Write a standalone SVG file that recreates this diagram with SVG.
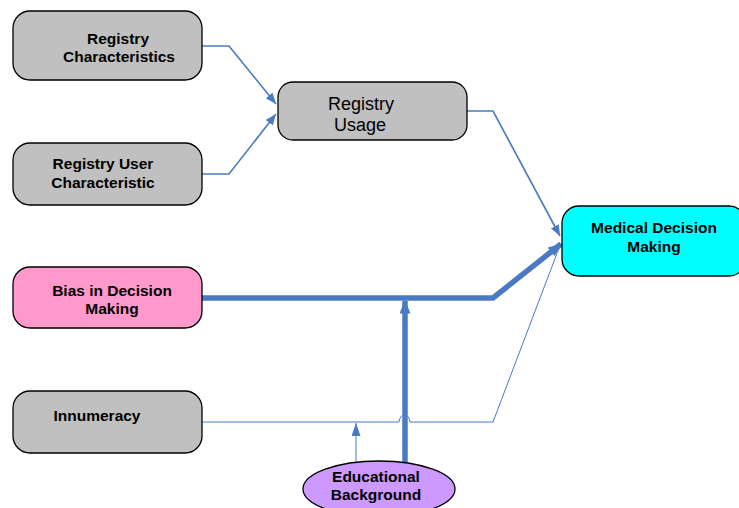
<svg xmlns="http://www.w3.org/2000/svg" width="739" height="508" viewBox="0 0 739 508">
<defs>
<style>
.box{stroke:#000;stroke-width:1.3}
.grey{fill:#c0c0c0}
.t{font-family:"Liberation Sans",Arial,sans-serif;font-size:15.5px;font-weight:bold;fill:#000;text-anchor:middle}
.tn{font-family:"Liberation Sans",Arial,sans-serif;font-size:18px;fill:#000;text-anchor:middle}
.c{fill:none;stroke:#4a7ac4;stroke-width:1.6}
.thin{fill:none;stroke:#4a7ac4;stroke-width:1}
.thick{fill:none;stroke:#4a7ac4;stroke-width:5.5}
</style>
<marker id="ah" viewBox="0 0 10 10" refX="10" refY="5" markerWidth="11" markerHeight="9" markerUnits="userSpaceOnUse" orient="auto" preserveAspectRatio="none"><path d="M0,0 L10,5 L0,10 z" fill="#4a7ac4"/></marker>
<marker id="ahs" viewBox="0 0 10 10" refX="10" refY="5" markerWidth="13" markerHeight="9" markerUnits="userSpaceOnUse" orient="auto" preserveAspectRatio="none"><path d="M0,0 L10,5 L0,10 z" fill="#4a7ac4"/></marker>
<marker id="ahl" viewBox="0 0 10 10" refX="9" refY="5" markerWidth="14" markerHeight="11" markerUnits="userSpaceOnUse" orient="auto" preserveAspectRatio="none"><path d="M0,0 L10,5 L0,10 z" fill="#4a7ac4"/></marker>
</defs>
<g id="connectors">
<polyline class="c" points="202,46 229,46 276,104" marker-end="url(#ah)"/>
<polyline class="c" points="202,174 229,174 276,114" marker-end="url(#ah)"/>
<polyline class="c" points="467,111 493,111 560,236" marker-end="url(#ah)"/>
<polyline class="thick" points="202,298 493,298 561,244" marker-end="url(#ahl)"/>
<path class="thin" d="M202,422 L399,422 Q400,415 404.5,415 Q409,415 410,422 L493,422 L559,248"/>
<line class="thick" x1="405" y1="462" x2="405" y2="301" marker-end="url(#ahl)"/>
<line class="thin" x1="356" y1="462" x2="356" y2="423" marker-end="url(#ahs)"/>
</g>
<g id="registry-characteristics">
<rect class="box grey" x="13" y="11" width="189" height="69" rx="17"/>
<text class="t" x="118" y="44">Registry</text>
<text class="t" x="119" y="62">Characteristics</text>
</g>
<g id="registry-user-characteristic">
<rect class="box grey" x="13" y="143" width="189" height="62" rx="17"/>
<text class="t" x="103" y="169">Registry User</text>
<text class="t" x="103" y="188">Characteristic</text>
</g>
<g id="registry-usage">
<rect class="box grey" x="278" y="82" width="189" height="58" rx="15"/>
<text class="tn" x="361" y="110">Registry</text>
<text class="tn" x="360" y="131">Usage</text>
</g>
<g id="medical-decision-making">
<rect class="box" fill="#00ffff" x="562" y="206" width="184" height="70" rx="17"/>
<text class="t" x="654" y="233">Medical Decision</text>
<text class="t" x="654" y="252">Making</text>
</g>
<g id="bias-in-decision-making">
<rect class="box" fill="#ff99cc" x="13" y="267" width="189" height="61" rx="17"/>
<text class="t" x="112" y="296">Bias in Decision</text>
<text class="t" x="112" y="314">Making</text>
</g>
<g id="innumeracy">
<rect class="box grey" x="13" y="391" width="189" height="62" rx="17"/>
<text class="t" x="97" y="421">Innumeracy</text>
</g>
<g id="educational-background">
<ellipse class="box" fill="#cc99ff" cx="379" cy="489" rx="76" ry="28"/>
<text class="t" x="376" y="482">Educational</text>
<text class="t" x="376" y="500">Background</text>
</g>
</svg>
